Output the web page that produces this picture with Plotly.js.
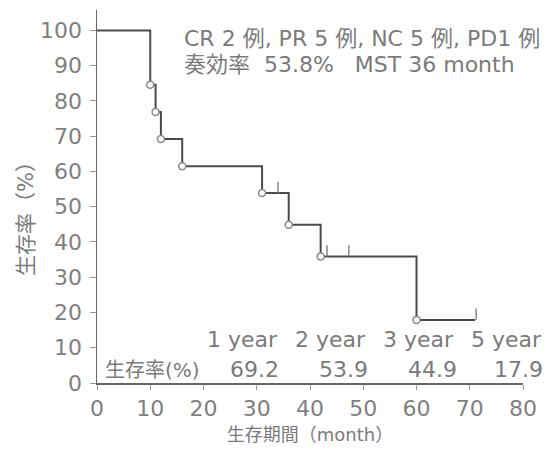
<!DOCTYPE html>
<html>
<head>
<meta charset="utf-8">
<script src="https://cdn.plot.ly/plotly-3.0.1.min.js"></script>
<style>
  html, body { margin: 0; padding: 0; background: #fff; }
  #chart { width: 554px; height: 454px; }
</style>
</head>
<body>
<div id="chart"></div>
<script>
// Kaplan-Meier survival curve (months vs. survival %)
const stepMonths   = [0, 10, 11, 12, 16, 31, 36, 42, 60, 71];
const stepSurvival = [100, 84.6, 76.9, 69.2, 61.5, 53.9, 44.9, 35.9, 17.9, 17.9];

// deaths (open circles at each new level)
const eventMonths   = [10, 11, 12, 16, 31, 36, 42, 60];
const eventSurvival = [84.6, 76.9, 69.2, 61.5, 53.9, 44.9, 35.9, 17.9];

// censored cases (short upward ticks on the curve)
const censorMonths   = [34, 43.2, 47.3, 71.2];
const censorSurvival = [53.9, 35.9, 35.9, 17.9];
const censorTickHeight = 3.2;

// summary table under the curve
const yearLabels    = ['1 year', '2 year', '3 year', '5 year'];
const yearRates     = ['69.2', '53.9', '44.9', '17.9'];
const yearRightEdge = [34.3, 50.9, 67.4, 84.0];
const rateRightEdge = [34.6, 51.3, 67.9, 84.2];

const summaryLine1 = 'CR 2 例, PR 5 例, NC 5 例, PD1 例';
const summaryLine2 = '奏効率  53.8%   MST 36 month';

const xTicks = [0, 10, 20, 30, 40, 50, 60, 70, 80];
const yTicks = [0, 10, 20, 30, 40, 50, 60, 70, 80, 90, 100];

const X_RANGE = [0, 80];
const Y_RANGE = [0, 105.8];

const FONT = '"DejaVu Sans", "Noto Sans CJK JP", sans-serif';
const TXT = '#7a7a7a';
const INK = '#4a4a4a';

// annotations placed in paper space so text past the x range still shows
const px = m => (m - X_RANGE[0]) / (X_RANGE[1] - X_RANGE[0]);
const py = v => (v - Y_RANGE[0]) / (Y_RANGE[1] - Y_RANGE[0]);

// build censor tick segments separated by nulls
const cx = [], cy = [];
censorMonths.forEach((m, i) => {
  cx.push(m, m, null);
  cy.push(censorSurvival[i], censorSurvival[i] + censorTickHeight, null);
});

const traces = [
  {
    x: stepMonths, y: stepSurvival, type: 'scatter', mode: 'lines',
    line: { shape: 'hv', color: INK, width: 2 },
    hoverinfo: 'skip', cliponaxis: false
  },
  {
    x: cx, y: cy, type: 'scatter', mode: 'lines',
    line: { color: '#777', width: 1.3 },
    hoverinfo: 'skip', cliponaxis: false
  },
  {
    x: eventMonths, y: eventSurvival, type: 'scatter', mode: 'markers',
    marker: { symbol: 'circle', size: 7, color: '#fff', line: { color: '#888', width: 1.5 } },
    hoverinfo: 'skip', cliponaxis: false
  }
];

const note = (text, x, y, anchor, size) => ({
  text: text, xref: 'paper', yref: 'paper', x: px(x), y: py(y),
  xanchor: anchor, yanchor: 'middle', showarrow: false,
  font: { family: FONT, size: size, color: TXT }
});

const annotations = [
  note(summaryLine1, 16.0, 97.6, 'left', 22),
  note(summaryLine2, 16.0, 90.3, 'left', 22),
  note('生存率(%)', 1.1, 3.8, 'left', 20)
];

yearLabels.forEach((lab, i) => {
  annotations.push(note(lab, yearRightEdge[i], 12.3, 'right', 22));
  annotations.push(note(yearRates[i], rateRightEdge[i], 3.8, 'right', 22));
});

// rotated y-axis title
annotations.push({
  text: '生存率（%）', xref: 'paper', yref: 'paper', x: -0.165, y: 0.455,
  xanchor: 'center', yanchor: 'middle', textangle: -90, showarrow: false,
  font: { family: FONT, size: 21, color: TXT }
});

const layout = {
  width: 554, height: 454,
  margin: { l: 97, r: 31, t: 10, b: 71 },
  paper_bgcolor: '#fff', plot_bgcolor: '#fff',
  showlegend: false,
  font: { family: FONT, color: TXT },
  xaxis: {
    range: X_RANGE, tickvals: xTicks, ticktext: xTicks.map(String),
    showgrid: false, zeroline: false, showline: true,
    linecolor: '#666', linewidth: 1.5,
    ticks: 'outside', ticklen: 5, tickcolor: '#999', tickwidth: 1,
    tickfont: { family: FONT, size: 22, color: '#7f7f7f' },
    title: { text: '生存期間（month）', font: { family: FONT, size: 18, color: TXT }, standoff: 8 }
  },
  yaxis: {
    range: Y_RANGE, tickvals: yTicks, ticktext: yTicks.map(String),
    showgrid: false, zeroline: false, showline: true,
    linecolor: '#666', linewidth: 1.5,
    ticks: 'outside', ticklen: 6, tickcolor: '#999', tickwidth: 1,
    ticklabelstandoff: 3,
    tickfont: { family: FONT, size: 22, color: '#7f7f7f' }
  },
  annotations: annotations
};

Plotly.newPlot('chart', traces, layout, { staticPlot: true, displayModeBar: false });
</script>
</body>
</html>
